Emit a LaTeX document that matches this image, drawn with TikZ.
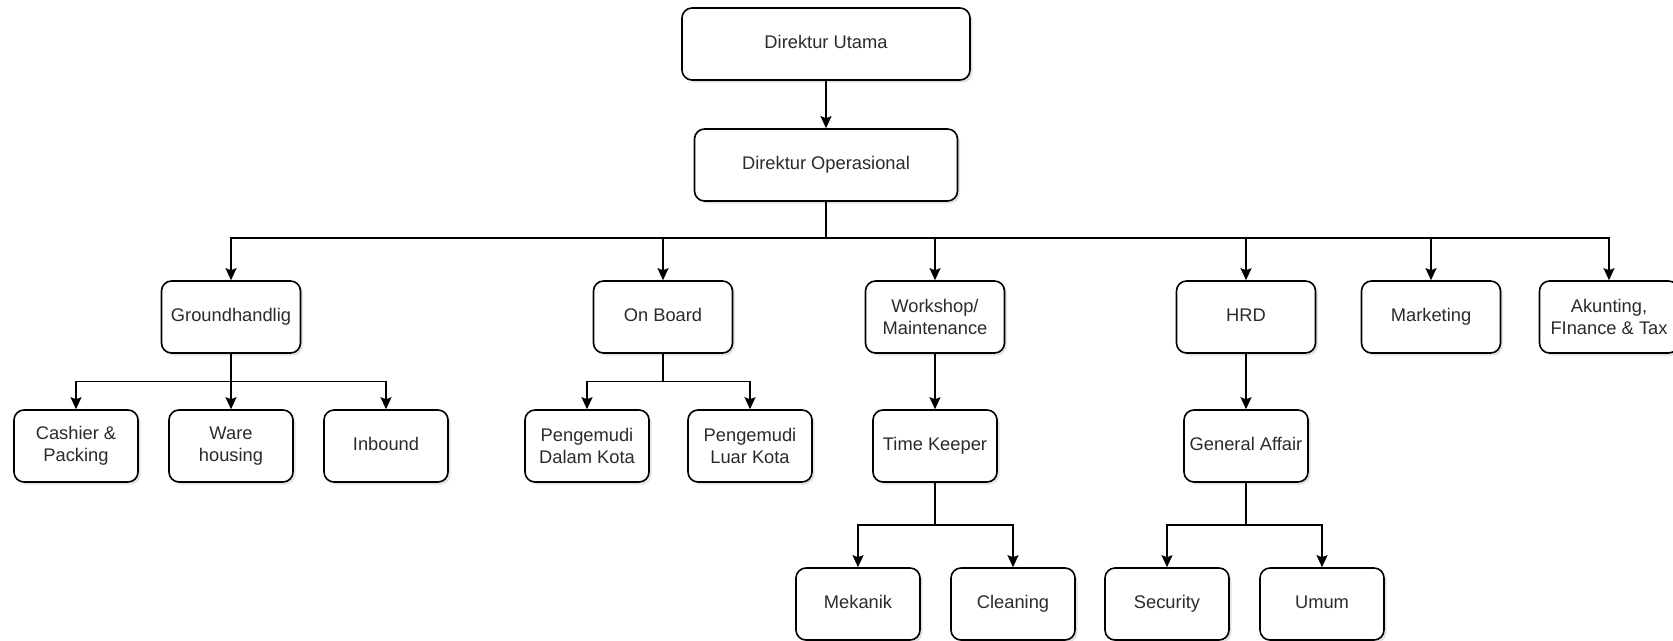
\documentclass[tikz,border=0pt]{standalone}
\usepackage{fontspec}
\setmainfont{Liberation Sans}
\usetikzlibrary{arrows.meta,shadows}
\definecolor{txt}{HTML}{2B2B2B}
\tikzset{
  box/.style={draw=black, line width=1.6pt, rounded corners=10pt, fill=white,
    minimum height=72pt, inner sep=2pt, align=center, text=txt,
    font=\fontsize{18.3pt}{21.7pt}\selectfont,
    drop shadow={shadow xshift=2.5pt, shadow yshift=-2.5pt, fill=black!22}},
  sl/.style={text height=13.2pt, text depth=3.9pt},
  wA/.style={box, sl, minimum width=288pt},
  wB/.style={box, sl, minimum width=263pt},
  wC/.style={box, minimum width=139pt},
  wD/.style={box, minimum width=124pt},
  conn/.style={draw=black, line width=1.5pt, -{Stealth[length=12pt,width=11pt,inset=2pt]}},
  link/.style={draw=black, line width=1.5pt}
}
\begin{document}
\begin{tikzpicture}[x=1pt,y=-1pt]
\useasboundingbox (0,0) rectangle (1673,640);
% level 0/1
\node[wA] (DU) at (826,44) {Direktur Utama};
\node[wB] (DO) at (826,165) {Direktur Operasional};
% level 2
\node[wC,sl] (GH) at (231,317) {Groundhandlig};
\node[wC,sl] (OB) at (663,317) {On Board};
\node[wC] (WS) at (935,317) {Workshop/\\Maintenance};
\node[wC,sl] (HRD) at (1246,317) {HRD};
\node[wC,sl] (MK) at (1431,317) {Marketing};
\node[wC] (AK) at (1609,317) {Akunting,\\FInance \& Tax};
% level 3
\node[wD] (CP) at (76,446) {Cashier \&\\Packing};
\node[wD] (WH) at (231,446) {Ware\\housing};
\node[wD,sl] (IB) at (386,446) {Inbound};
\node[wD] (PDK) at (587,446) {Pengemudi\\Dalam Kota};
\node[wD] (PLK) at (750,446) {Pengemudi\\Luar Kota};
\node[wD,sl] (TK) at (935,446) {Time Keeper};
\node[wD,sl] (GA) at (1246,446) {General Affair};
% level 4
\node[wD,sl] (MEK) at (858,604) {Mekanik};
\node[wD,sl] (CL) at (1013,604) {Cleaning};
\node[wD,sl] (SEC) at (1167,604) {Security};
\node[wD,sl] (UM) at (1322,604) {Umum};
% bus coordinates
\coordinate (b0) at (826,238);
\coordinate (bGH) at (231,381.5);
\coordinate (bOB) at (663,381.5);
\coordinate (bTK) at (935,525);
\coordinate (bGA) at (1246,525);
% connectors
\draw[conn] (DU) -- (DO);
\draw[link] (DO.south) -- (b0);
\foreach \n in {GH,OB,WS,HRD,MK,AK}{
  \draw[conn] (b0) -| (\n.north);
}
\draw[link] (GH.south) -- (bGH);
\foreach \n in {CP,WH,IB}{
  \draw[conn] (bGH) -| (\n.north);
}
\draw[link] (OB.south) -- (bOB);
\foreach \n in {PDK,PLK}{
  \draw[conn] (bOB) -| (\n.north);
}
\draw[conn] (WS) -- (TK);
\draw[conn] (HRD) -- (GA);
\draw[link] (TK.south) -- (bTK);
\foreach \n in {MEK,CL}{
  \draw[conn] (bTK) -| (\n.north);
}
\draw[link] (GA.south) -- (bGA);
\foreach \n in {SEC,UM}{
  \draw[conn] (bGA) -| (\n.north);
}
\end{tikzpicture}
\end{document}
